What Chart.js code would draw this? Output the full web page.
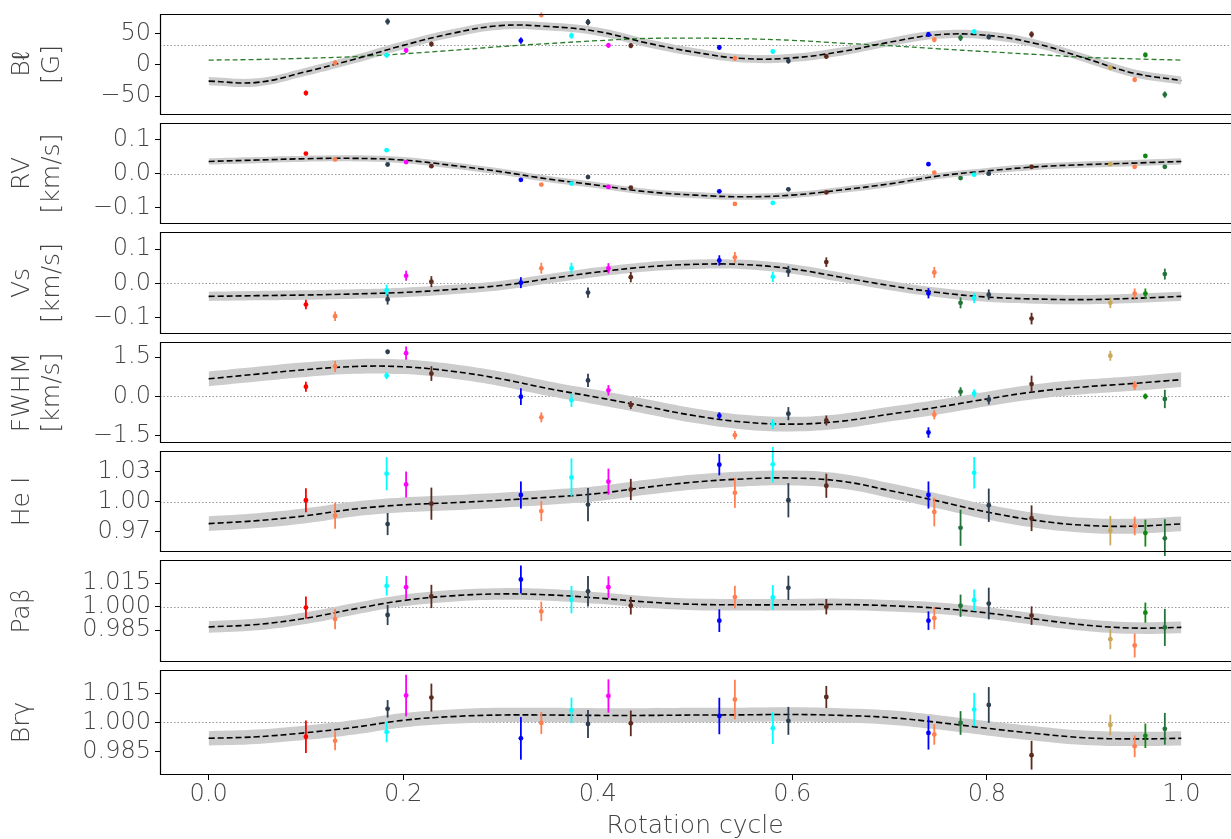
<!DOCTYPE html>
<html>
<head>
<meta charset="utf-8">
<script src="https://cdn.jsdelivr.net/npm/chart.js@4.4.0/dist/chart.umd.min.js"></script>
<style>
html, body { margin: 0; padding: 0; background: #fff; overflow: hidden; }
#fig { position: relative; width: 1231px; height: 839px; overflow: hidden; }
.panel { position: absolute; left: 0; width: 1234px; }
</style>
</head>
<body>
<div id="fig"></div>
<script>
// observation phases and colours (one per night)
const phase = [0.100, 0.130, 0.183, 0.184, 0.203, 0.229, 0.321, 0.342, 0.373, 0.390, 0.411, 0.434, 0.525, 0.541,
    0.580, 0.596, 0.635, 0.740, 0.746, 0.773, 0.787, 0.802, 0.846, 0.927, 0.952, 0.963, 0.983];
const obsColors = ['#ff0000', '#ff7f50', '#00ffff', '#2c3e50', '#ff00ff', '#5c2a1e', '#0000ff', '#ff7f50', '#00ffff',
    '#2c3e50', '#ff00ff', '#5c2a1e', '#0000ff', '#ff7f50', '#00ffff', '#2c3e50', '#5c2a1e', '#0000ff', '#ff7f50',
    '#23733a', '#00ffff', '#2c3e50', '#5c2a1e', '#c9aa5c', '#ff7f50', '#118811', '#23733a'];

// model curves sampled every 0.05 in phase
const modelPhase = [0, 0.05, 0.10, 0.15, 0.20, 0.25, 0.30, 0.35, 0.40, 0.45, 0.50, 0.55, 0.60, 0.65, 0.70, 0.75,
    0.80, 0.85, 0.90, 0.95, 1.00];

const blValues = [-45, 3, 15.3, 69, 23, 33, 38.6, 79.5, 46.4, 68, 31, 30.5, 27.6, 10.4, 21.2, 6, 13.3, 48.4, 40, 43,
    52.8, 44.5, 48.4, -4.5, -23.7, 15.7, -47.5];
const blErrors = [4, 4, 4, 5, 4, 4, 5, 4, 5, 5, 4, 4, 4, 4, 4, 4, 4, 4, 4, 5, 4, 4, 5, 4, 4, 4, 5];
const blModel = [-26, -28, -11, 9, 31, 50, 62.5, 61, 53, 35, 20, 10, 11, 21, 36, 48, 47, 34, 11, -13, -25];
const blDipole = [7.5, 8.5, 10.5, 13, 17.5, 23, 29, 34, 38.5, 42, 42.5, 41.5, 39, 34.5, 30.5, 25.5, 21, 16.5, 12,
    9.5, 7.5];

const rvValues = [0.059, 0.042, 0.069, 0.027, 0.034, 0.022, -0.018, -0.032, -0.029, -0.010, -0.039, -0.041, -0.052,
    -0.089, -0.086, -0.046, -0.055, 0.028, 0.003, -0.013, -0.003, 0.000, 0.020, 0.028, 0.020, 0.052, 0.020];
const rvErrors = [0.004, 0.004, 0.004, 0.004, 0.004, 0.004, 0.004, 0.004, 0.004, 0.004, 0.004, 0.004, 0.004, 0.004,
    0.004, 0.004, 0.004, 0.004, 0.004, 0.004, 0.004, 0.004, 0.004, 0.004, 0.004, 0.004, 0.004];
const rvModel = [0.036, 0.040, 0.044, 0.045, 0.040, 0.0245, 0.006, -0.016, -0.034, -0.053, -0.063, -0.068, -0.063,
    -0.048, -0.030, -0.007, 0.008, 0.020, 0.0265, 0.031, 0.036];

const vsValues = [-0.062, -0.096, -0.020, -0.047, 0.022, 0.005, 0.002, 0.044, 0.044, -0.027, 0.044, 0.018, 0.067,
    0.076, 0.019, 0.035, 0.062, -0.029, 0.032, -0.057, -0.043, -0.033, -0.103, -0.057, -0.030, -0.030, 0.027];
const vsErrors = [0.014, 0.014, 0.016, 0.015, 0.0146, 0.016, 0.016, 0.016, 0.016, 0.015, 0.015, 0.015, 0.015, 0.0155,
    0.015, 0.016, 0.014, 0.015, 0.016, 0.016, 0.015, 0.015, 0.017, 0.015, 0.015, 0.015, 0.016];
const vsModel = [-0.038, -0.036, -0.034, -0.031, -0.0266, -0.018, -0.0065, 0.0137, 0.033, 0.048, 0.0556, 0.055, 0.042,
    0.018, -0.0065, -0.0266, -0.040, -0.0457, -0.0476, -0.044, -0.038];

const fwhmValues = [0.37, 1.14, 0.79, 1.70, 1.65, 0.87, -0.01, -0.80, -0.15, 0.61, 0.23, -0.33, -0.74, -1.48, -1.06,
    -0.66, -0.92, -1.38, -0.70, 0.18, 0.11, -0.13, 0.47, 1.55, 0.41, 0.0, -0.10];
const fwhmErrors = [0.19, 0.21, 0.13, 0.09, 0.25, 0.28, 0.32, 0.19, 0.26, 0.25, 0.2, 0.15, 0.13, 0.16, 0.19, 0.25, 0.19,
    0.2, 0.18, 0.17, 0.16, 0.18, 0.32, 0.19, 0.17, 0.11, 0.35];
const fwhmModel = [0.67, 0.85, 1.02, 1.14, 1.13, 0.96, 0.67, 0.29, -0.04, -0.39, -0.74, -0.98, -1.06, -0.95, -0.68,
    -0.41, -0.10, 0.18, 0.36, 0.49, 0.64];

const heValues = [1.0013, 0.9859, 1.0277, 0.9776, 1.017, 0.9979, 1.0065, 0.9905, 1.024, 0.997, 1.0198, 1.012, 1.0367,
    1.0087, 1.037, 1.0013, 1.0157, 1.0065, 0.9896, 0.9739, 1.0286, 0.9963, 0.9834, 0.971, 0.9757, 0.9686, 0.9634];
const heErrors = [0.012, 0.013, 0.0165, 0.011, 0.013, 0.016, 0.0135, 0.010, 0.019, 0.0166, 0.013, 0.0106, 0.0106,
    0.015, 0.018, 0.017, 0.012, 0.0135, 0.0143, 0.018, 0.0157, 0.0166, 0.0128, 0.0146, 0.0092, 0.0134, 0.019];
const heModel = [0.978, 0.981, 0.9859, 0.9926, 0.9967, 0.9988, 1.0013, 1.0043, 1.008, 1.0142, 1.0194, 1.0225, 1.0234,
    1.0203, 1.011, 1.0004, 0.9896, 0.9813, 0.9764, 0.9754, 0.9778];

const pabValues = [0.9994, 0.9921, 1.0132, 0.9947, 1.0124, 1.0065, 1.0173, 0.997, 1.0045, 1.0098, 1.0124, 1.0006,
    0.9911, 1.0061, 1.0059, 1.012, 1.0000, 0.9911, 0.9927, 1.0006, 1.0041, 1.002, 0.9943, 0.9793, 0.9753, 0.9962, 0.9868];
const pabErrors = [0.0071, 0.0064, 0.0062, 0.0064, 0.0073, 0.0074, 0.0089, 0.0062, 0.0087, 0.0097, 0.0069, 0.0056,
    0.0072, 0.0072, 0.0079, 0.0077, 0.0049, 0.0059, 0.0071, 0.0071, 0.0069, 0.0101, 0.0059, 0.0063, 0.0076, 0.0064, 0.0118];
const pabModel = [0.9871, 0.9887, 0.9927, 0.9986, 1.0039, 1.0069, 1.0081, 1.0075, 1.0055, 1.003, 1.0015, 1.0012, 1.0012,
    1.0014, 1.0006, 0.999, 0.996, 0.9921, 0.9884, 0.9864, 0.9868];

const brgValues = [0.9926, 0.9905, 0.9951, 1.007, 1.0139, 1.0128, 0.9918, 0.9997, 1.0062, 0.9992, 1.0136, 0.9995,
    1.0033, 1.0118, 0.997, 1.0008, 1.0131, 0.9946, 0.9938, 0.9997, 1.0066, 1.009, 0.9831, 0.9987, 0.9877, 0.9931, 0.9967];
const brgErrors = [0.0084, 0.0049, 0.0053, 0.0045, 0.0107, 0.0072, 0.011, 0.0057, 0.0066, 0.0072, 0.0086, 0.0066,
    0.0094, 0.0102, 0.0082, 0.0072, 0.0057, 0.0086, 0.0053, 0.0061, 0.0086, 0.0092, 0.0074, 0.0053, 0.0056, 0.0063, 0.0082];
const brgModel = [0.9918, 0.9926, 0.9947, 0.9975, 1.0011, 1.003, 1.0038, 1.0038, 1.0036, 1.0036, 1.0038, 1.0039, 1.0041,
    1.0036, 1.0025, 1.0, 0.997, 0.9943, 0.9921, 0.9915, 0.9918];

// tick labels
const blTicks = [50, 0, -50];
const blTickLabels = ['50', '0', '\u221250'];
const kmsTicks = [0.1, 0.0, -0.1];
const kmsTickLabels = ['0.1', '0.0', '\u22120.1'];
const fwhmTicks = [1.5, 0.0, -1.5];
const fwhmTickLabels = ['1.5', '0.0', '\u22121.5'];
const heTicks = [1.03, 1.00, 0.97];
const heTickLabels = ['1.03', '1.00', '0.97'];
const lineTicks = [1.015, 1.000, 0.985];
const lineTickLabels = ['1.015', '1.000', '0.985'];
const xTicks = [0.0, 0.2, 0.4, 0.6, 0.8, 1.0];
const xTickLabels = ['0.0', '0.2', '0.4', '0.6', '0.8', '1.0'];

const panels = [
    {title: ['B\u2113', '[G]'], vals: blValues, errs: blErrors, model: blModel, band: 6.5, extra: blDipole, ref: 31,
        min: -80, max: 81, ticks: blTicks, labels: blTickLabels},
    {title: ['RV', '[km/s]'], vals: rvValues, errs: rvErrors, model: rvModel, band: 0.009, ref: 0,
        min: -0.148, max: 0.149, ticks: kmsTicks, labels: kmsTickLabels},
    {title: ['Vs', '[km/s]'], vals: vsValues, errs: vsErrors, model: vsModel, band: 0.0137, ref: 0,
        min: -0.148, max: 0.150, ticks: kmsTicks, labels: kmsTickLabels},
    {title: ['FWHM', '[km/s]'], vals: fwhmValues, errs: fwhmErrors, model: fwhmModel, band: 0.28, ref: 0,
        min: -1.78, max: 2.075, ticks: fwhmTicks, labels: fwhmTickLabels},
    {title: 'He I', vals: heValues, errs: heErrors, model: heModel, band: 0.0074, ref: 1.0,
        min: 0.9498, max: 1.0503, ticks: heTicks, labels: heTickLabels},
    {title: 'Pa\u03b2', vals: pabValues, errs: pabErrors, model: pabModel, band: 0.0037, ref: 1.0,
        min: 0.9648, max: 1.0297, ticks: lineTicks, labels: lineTickLabels},
    {title: 'Br\u03b3', vals: brgValues, errs: brgErrors, model: brgModel, band: 0.0037, ref: 1.0,
        min: 0.9729, max: 1.027, ticks: lineTicks, labels: lineTickLabels}
];

const panelTops = [10, 119, 228, 338, 447, 556, 666];
const panelBottom = 775;
const FONT = "'DejaVu Sans ExtraLight', 'DejaVu Sans Light', 'DejaVu Sans', sans-serif";
const TEXT = '#444';

// dotted reference line, error bars and axes box
const panelDecor = {
    id: 'panelDecor',
    beforeDatasetsDraw(chart, args, opts) {
        const {ctx, chartArea: a} = chart;
        const y = Math.round(chart.scales.y.getPixelForValue(opts.ref)) + 0.5;
        ctx.save();
        ctx.strokeStyle = '#999';
        ctx.lineWidth = 1;
        ctx.setLineDash([1.5, 2]);
        ctx.beginPath();
        ctx.moveTo(a.left, y);
        ctx.lineTo(a.right, y);
        ctx.stroke();
        ctx.restore();
    },
    afterDatasetsDraw(chart) {
        const ctx = chart.ctx;
        const ys = chart.scales.y;
        ctx.save();
        chart.data.datasets.forEach((ds, i) => {
            if (!ds.errors) return;
            chart.getDatasetMeta(i).data.forEach((el, k) => {
                const v = ds.data[k].y, e = ds.errors[k];
                ctx.strokeStyle = ds.pointBackgroundColor[k];
                ctx.lineWidth = 1.8;
                ctx.beginPath();
                ctx.moveTo(el.x, ys.getPixelForValue(v + e));
                ctx.lineTo(el.x, ys.getPixelForValue(v - e));
                ctx.stroke();
            });
        });
        ctx.restore();
    },
    afterDraw(chart) {
        const {ctx, chartArea: a} = chart;
        ctx.save();
        ctx.strokeStyle = '#000';
        ctx.lineWidth = 1.2;
        ctx.beginPath();
        ctx.moveTo(a.right + 2, a.top + 0.5);
        ctx.lineTo(a.left + 0.5, a.top + 0.5);
        ctx.lineTo(a.left + 0.5, a.bottom - 0.5);
        ctx.lineTo(a.right + 2, a.bottom - 0.5);
        ctx.stroke();
        ctx.restore();
    }
};

const fig = document.getElementById('fig');

panels.forEach((p, i) => {
    const isLast = i === panels.length - 1;
    const top = panelTops[i];
    const h = (isLast ? 839 : panelTops[i + 1]) - top;
    const div = document.createElement('div');
    div.className = 'panel';
    div.style.top = top + 'px';
    div.style.height = h + 'px';
    const canvas = document.createElement('canvas');
    div.appendChild(canvas);
    fig.appendChild(div);

    const pts = phase.map((x, k) => ({x: x, y: p.vals[k]}));
    const curve = modelPhase.map((x, k) => ({x: x, y: p.model[k]}));
    const upper = modelPhase.map((x, k) => ({x: x, y: p.model[k] + p.band}));
    const lower = modelPhase.map((x, k) => ({x: x, y: p.model[k] - p.band}));

    const datasets = [
        {data: pts, showLine: false, pointRadius: 2.4, pointBorderWidth: 0,
            pointBackgroundColor: obsColors, pointBorderColor: obsColors, errors: p.errs, order: 0},
        {data: curve, borderColor: '#000', borderWidth: 1.6, borderDash: [6, 3], pointRadius: 0,
            tension: 0.4, fill: false, order: 1}
    ];
    if (p.extra) {
        datasets.push({data: modelPhase.map((x, k) => ({x: x, y: p.extra[k]})), borderColor: '#2a7a2a',
            borderWidth: 1.3, borderDash: [5, 3], pointRadius: 0, tension: 0.4, fill: false, order: 2});
    }
    datasets.push({data: upper, borderWidth: 0, borderColor: 'rgba(0,0,0,0)', pointRadius: 0,
        tension: 0.4, fill: '+1', backgroundColor: '#cccccc', order: 3});
    datasets.push({data: lower, borderWidth: 0, borderColor: 'rgba(0,0,0,0)', pointRadius: 0,
        tension: 0.4, fill: false, order: 4});

    new Chart(canvas, {
        type: 'line',
        data: {datasets: datasets},
        plugins: [panelDecor],
        options: {
            responsive: true,
            maintainAspectRatio: false,
            animation: false,
            layout: {padding: {left: 0, right: 1, top: 0, bottom: 0}},
            plugins: {
                legend: {display: false},
                tooltip: {enabled: false},
                panelDecor: {ref: p.ref}
            },
            scales: {
                x: {
                    type: 'linear',
                    min: -0.05,
                    max: 1.05,
                    display: isLast,
                    afterBuildTicks: s => { s.ticks = xTicks.map(v => ({value: v})); },
                    afterFit: s => {
                        if (isLast) s.height = 839 - panelBottom;
                        s.paddingLeft = 0;
                        s.paddingRight = 0;
                    },
                    border: {display: false},
                    grid: {display: true, drawOnChartArea: false, tickLength: 5, color: '#000', lineWidth: 1},
                    ticks: {
                        padding: 0,
                        color: TEXT,
                        maxRotation: 0,
                        font: {family: FONT, size: 24, weight: 200},
                        callback: (v, k) => xTickLabels[k]
                    },
                    title: {
                        display: true,
                        text: 'Rotation cycle',
                        color: TEXT,
                        font: {family: FONT, size: 25, weight: 200, lineHeight: 1},
                        padding: {top: 0, bottom: 0}
                    }
                },
                y: {
                    min: p.min,
                    max: p.max,
                    afterBuildTicks: s => { s.ticks = p.ticks.map(v => ({value: v})); },
                    afterFit: s => { s.width = 160; s.paddingTop = 0; s.paddingBottom = 0; },
                    border: {display: false},
                    grid: {display: true, drawOnChartArea: false, tickLength: 5, color: '#000', lineWidth: 1},
                    ticks: {
                        padding: 4,
                        color: TEXT,
                        font: {family: FONT, size: 24, weight: 200},
                        callback: (v, k) => p.labels[k]
                    },
                    title: {
                        display: true,
                        text: p.title,
                        color: TEXT,
                        font: {family: FONT, size: 25, weight: 200, lineHeight: 1.2},
                        padding: {top: 7, bottom: 0}
                    }
                }
            }
        }
    });
});
</script>
</body>
</html>
